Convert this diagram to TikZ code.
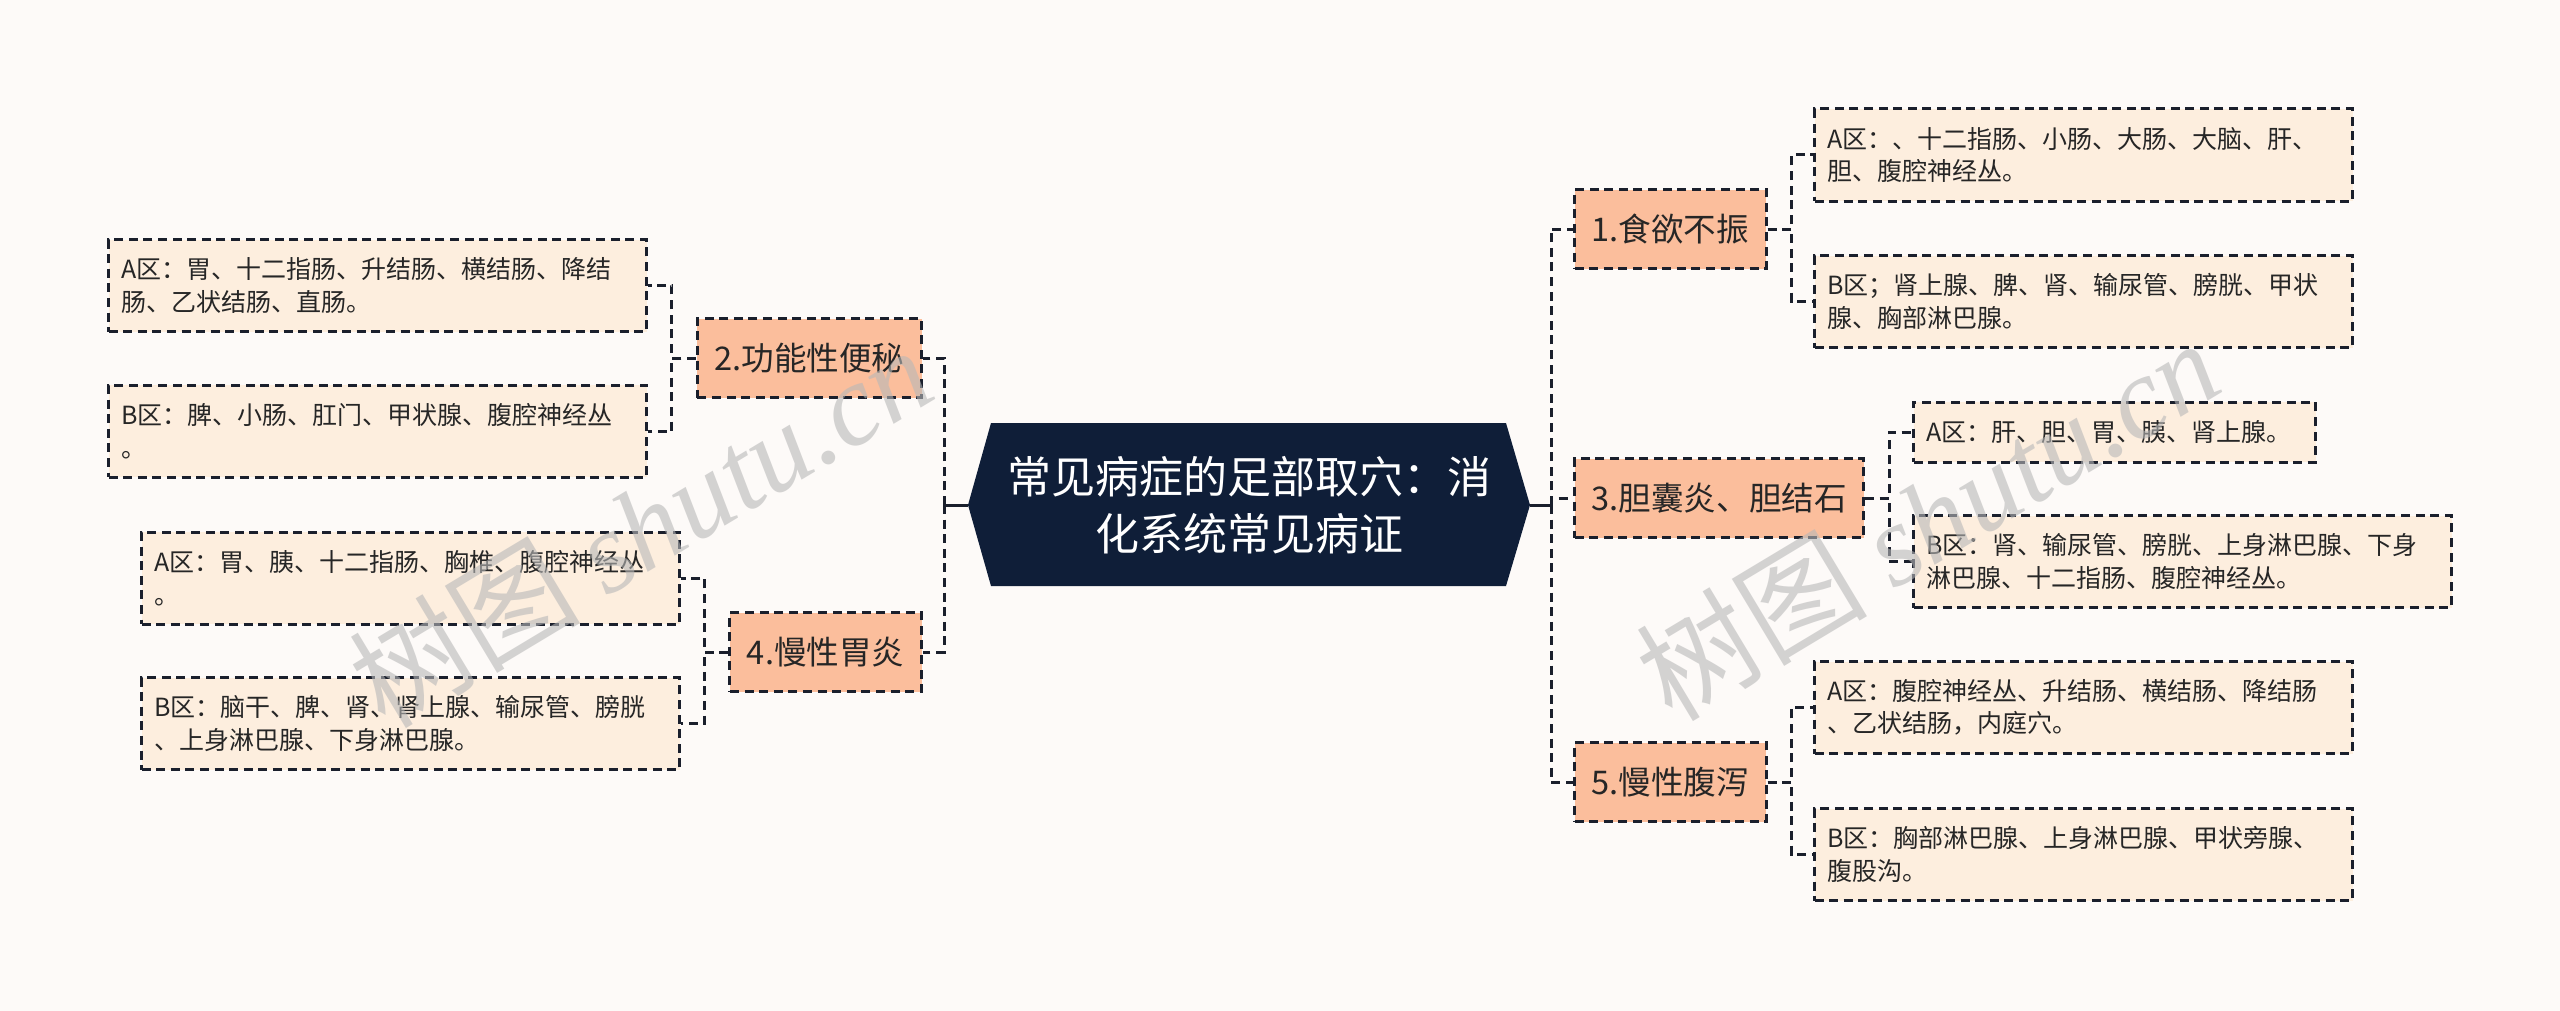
\documentclass[tikz,border=0pt]{standalone}
\usepackage{fontspec}
\setmainfont{Noto Sans CJK SC}
\newfontfamily\wmlatin{Liberation Serif}
\usetikzlibrary{calc}
\definecolor{bgc}{HTML}{FDFAF8}
\definecolor{rootc}{HTML}{0F1E38}
\definecolor{lvone}{HTML}{FBBE9C}
\definecolor{lvtwo}{HTML}{FDEEDE}
\definecolor{linec}{HTML}{1A1F2C}
\definecolor{wmc}{HTML}{B8B8B8}
\begin{document}
\begin{tikzpicture}[x=0.5pt,y=-0.5pt,
  dline/.style={draw=linec, line width=1.5pt, dash pattern=on 4.5pt off 2.8pt},
  sline/.style={draw=linec, line width=1.5pt},
  topic/.style={dline, fill=lvone, font=\fontsize{16.3}{20}\selectfont, text=black!85,
    minimum height=39.5pt, inner xsep=8.5pt, inner ysep=0pt},
  leaf/.style={dline, fill=lvtwo, font=\fontsize{12.5}{16.3}\selectfont, text=black!85,
    align=left, inner xsep=6.5pt, inner ysep=0pt, text width=256pt, minimum height=46pt},
  wmark/.style={rotate=31, text=wmc, opacity=0.6, font=\fontsize{58}{60}\selectfont}
]
\fill[bgc] (0,0) rectangle (2560,1011);
\useasboundingbox (0,0) rectangle (2560,1011);

% root
\fill[rootc] (968,505) -- (991,423) -- (1506,423) -- (1530,505) -- (1506,586) -- (991,586) -- cycle;
\node[font=\fontsize{22}{28.5}\selectfont, text=white, align=center,
  minimum width=281pt, minimum height=81pt, inner sep=0pt] (root) at (1249,505)
  {常见病症的足部取穴：消\\化系统常见病证};

% level 1
\node[topic, anchor=west] (t1) at (1573,229) {1.食欲不振};
\node[topic, anchor=west] (t3) at (1573,498) {3.胆囊炎、胆结石};
\node[topic, anchor=west] (t5) at (1573,782) {5.慢性腹泻};
\node[topic, anchor=east] (t2) at (923,358) {2.功能性便秘};
\node[topic, anchor=east] (t4) at (923,652) {4.慢性胃炎};

% level 2 right
\node[leaf, anchor=west] (a1) at (1813,155) {A区：、十二指肠、小肠、大肠、大脑、肝、\\胆、腹腔神经丛。};
\node[leaf, anchor=west] (b1) at (1813,301.5) {B区；肾上腺、脾、肾、输尿管、膀胱、甲状\\腺、胸部淋巴腺。};
\node[leaf, anchor=west, text width=188pt, minimum height=30pt] (a3) at (1912,432) {A区：肝、胆、胃、胰、肾上腺。};
\node[leaf, anchor=west] (b3) at (1912,561.5) {B区：肾、输尿管、膀胱、上身淋巴腺、下身\\淋巴腺、十二指肠、腹腔神经丛。};
\node[leaf, anchor=west] (a5) at (1813,707.5) {A区：腹腔神经丛、升结肠、横结肠、降结肠\\、乙状结肠，内庭穴。};
\node[leaf, anchor=west] (b5) at (1813,854.5) {B区：胸部淋巴腺、上身淋巴腺、甲状旁腺、\\腹股沟。};

% level 2 left
\node[leaf, anchor=east] (a2) at (648,285.5) {A区：胃、十二指肠、升结肠、横结肠、降结\\肠、乙状结肠、直肠。};
\node[leaf, anchor=east] (b2) at (648,431) {B区：脾、小肠、肛门、甲状腺、腹腔神经丛\\。};
\node[leaf, anchor=east] (a4) at (681,578) {A区：胃、胰、十二指肠、胸椎、腹腔神经丛\\。};
\node[leaf, anchor=east] (b4) at (681,723.5) {B区：脑干、脾、肾、肾上腺、输尿管、膀胱\\、上身淋巴腺、下身淋巴腺。};

% connectors root
\coordinate (rj) at (1551,505);
\coordinate (lj) at (944,505);
\draw[sline] (root.east) -- (rj);
\draw[sline] (root.west) -- (lj);
\draw[dline] (rj) |- (t1.west);
\draw[dline] (rj) |- (t3.west);
\draw[dline] (rj) |- (t5.west);
\draw[dline] (lj) |- (t2.east);
\draw[dline] (lj) |- (t4.east);

% connectors level 1 -> 2
\draw[dline] (t1.east) -- ++(24,0) |- (a1.west);
\draw[dline] (t1.east) -- ++(24,0) |- (b1.west);
\draw[dline] (t3.east) -- ++(24,0) |- (a3.west);
\draw[dline] (t3.east) -- ++(24,0) |- (b3.west);
\draw[dline] (t5.east) -- ++(24,0) |- (a5.west);
\draw[dline] (t5.east) -- ++(24,0) |- (b5.west);
\draw[dline] (t2.west) -- ++(-24,0) |- (a2.east);
\draw[dline] (t2.west) -- ++(-24,0) |- (b2.east);
\draw[dline] (t4.west) -- ++(-24,0) |- (a4.east);
\draw[dline] (t4.west) -- ++(-24,0) |- (b4.east);

% watermarks
\node[wmark] (wm1) at (640,526) {树图 {\wmlatin\itshape shutu.cn}};
\node[wmark] (wm2) at (1927,519) {树图 {\wmlatin\itshape shutu.cn}};
\end{tikzpicture}
\end{document}
